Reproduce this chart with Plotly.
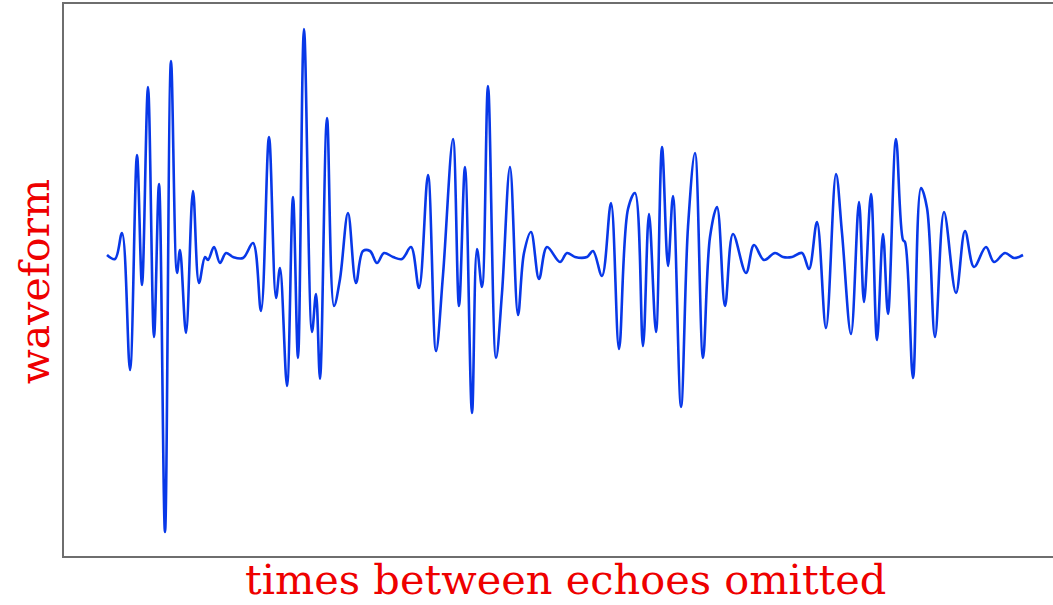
import plotly.graph_objects as go

# time (arbitrary units) and waveform amplitude
t = [0, 8, 15, 23, 30, 35, 41, 47, 52, 58, 64, 70, 73, 79, 86, 92, 98, 101, 107, 113,
     119, 126, 136, 146, 154, 162, 169, 173, 180, 186, 191, 197, 205, 209, 213, 220, 227,
     233, 241, 249, 256, 263, 270, 277, 286, 295, 304, 312, 321, 329, 336, 346, 352, 358,
     365, 370, 375, 381, 389, 395, 403, 411, 417, 424, 432, 440, 453, 460, 468, 480, 486,
     495, 504, 512, 521, 528, 536, 542, 549, 555, 561, 566, 574, 581, 588, 596, 603, 610,
     618, 626, 639, 647, 657, 668, 676, 685, 695, 702, 710, 719, 729, 735, 744, 752, 757,
     764, 770, 776, 781, 789, 796, 798, 806, 814, 820, 828, 837, 849, 858, 867, 879, 887,
     898, 907, 916]
amp = [0.02, -0.02, 0.24, -1.13, 1.02, -0.28, 1.70, -0.80, 0.73, -2.75, 1.96, -0.16, 0.07,
       -0.76, 0.66, -0.26, 0.00, -0.03, 0.10, -0.06, 0.04, 0.00, -0.01, 0.14, -0.54, 1.20,
       -0.41, -0.11, -1.29, 0.60, -1.01, 2.28, -0.75, -0.37, -1.22, 1.39, -0.49, -0.22, 0.44,
       -0.26, 0.06, 0.06, -0.06, 0.04, 0.00, -0.02, 0.10, -0.31, 0.82, -0.94, -0.18, 1.18,
       -0.49, 0.90, -1.56, 0.08, -0.30, 1.71, -1.01, -0.36, 0.90, -0.58, 0.04, 0.25, -0.22,
       0.10, -0.05, 0.04, 0.00, 0.00, 0.06, -0.19, 0.54, -0.92, 0.48, 0.64, -0.89, 0.43,
       -0.75, 1.10, -0.09, 0.61, -1.50, 0.30, 1.04, -1.01, 0.20, 0.50, -0.49, 0.23, -0.16,
       0.12, -0.03, 0.04, 0.00, 0.00, 0.04, -0.12, 0.35, -0.71, 0.83, 0.24, -0.77, 0.55,
       -0.45, 0.63, -0.83, 0.23, -0.57, 1.18, 0.17, 0.15, -1.21, 0.69, 0.49, -0.80, 0.45,
       -0.36, 0.26, -0.10, 0.10, -0.05, 0.04, -0.01, 0.02]

x_label = "times between echoes omitted"
y_label = "waveform"

fig = go.Figure(go.Scatter(
    x=t, y=amp, mode="lines",
    line=dict(color="#0838e8", width=2.6, shape="spline", smoothing=1.0),
    hoverinfo="skip",
))

fig.update_layout(
    width=1053, height=605,
    margin=dict(l=64, r=0, t=4, b=49),
    paper_bgcolor="white", plot_bgcolor="white",
    showlegend=False,
    xaxis=dict(range=[-43, 946], showgrid=False, zeroline=False, showticklabels=False,
               ticks="", showline=True, linecolor="#6e6e6e", linewidth=2, mirror=True),
    yaxis=dict(range=[-2.99, 2.53], showgrid=False, zeroline=False, showticklabels=False,
               ticks="", showline=True, linecolor="#6e6e6e", linewidth=2),
    annotations=[
        dict(text=x_label, xref="paper", yref="paper", x=0.507, y=-0.042,
             xanchor="center", yanchor="middle", showarrow=False,
             font=dict(family="DejaVu Serif", size=41.5, color="#ee0000")),
        dict(text=y_label, xref="paper", yref="paper", x=-0.0293, y=0.496,
             xanchor="center", yanchor="middle", showarrow=False, textangle=-90,
             font=dict(family="DejaVu Serif", size=41, color="#ee0000")),
    ],
)

fig.write_html("out.html")
